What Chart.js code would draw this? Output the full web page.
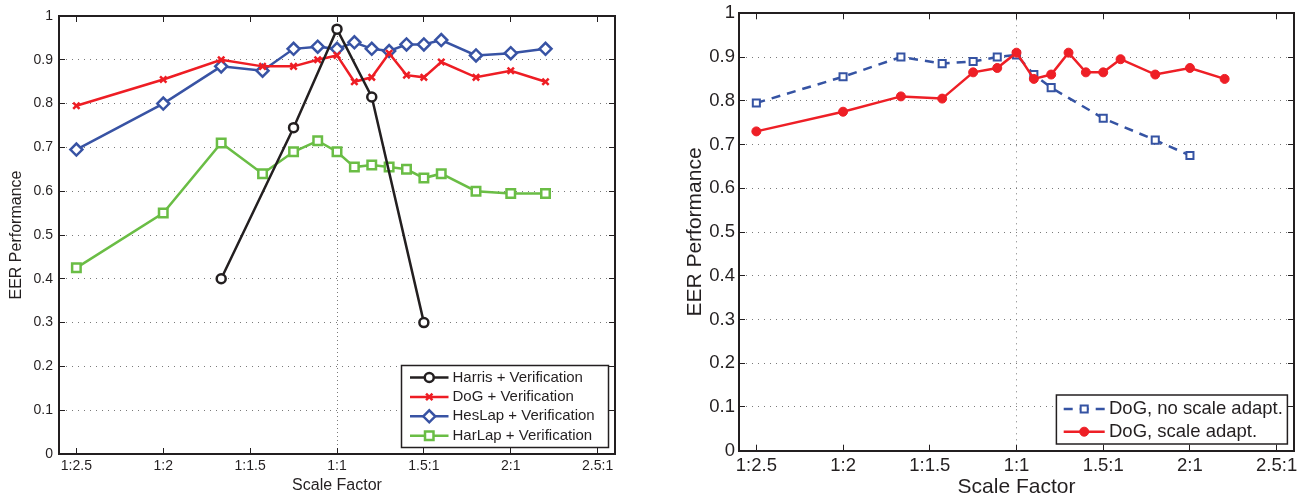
<!DOCTYPE html>
<html>
<head>
<meta charset="utf-8">
<title>EER performance vs. scale factor</title>
<script src="https://cdn.jsdelivr.net/npm/chart.js@4.4.1/dist/chart.umd.min.js"></script>
<style>
  html, body { margin: 0; padding: 0; background: #ffffff; }
  #wrap { position: relative; width: 1301px; height: 496px; overflow: hidden; }
  canvas { position: absolute; top: 0; }
  #left { left: 0; }
  #right { left: 650px; }
</style>
</head>
<body>
<div id="wrap">
  <canvas id="left" width="650" height="496"></canvas>
  <canvas id="right" width="651" height="496"></canvas>
</div>
<script>
// Scale-factor axis: labels sit at positions 0..6
const scaleLabels = ['1:2.5', '1:2', '1:1.5', '1:1', '1.5:1', '2:1', '2.5:1'];
const perfTicks = [0, 0.1, 0.2, 0.3, 0.4, 0.5, 0.6, 0.7, 0.8, 0.9, 1];
const perfTickLabels = ['0', '0.1', '0.2', '0.3', '0.4', '0.5', '0.6', '0.7', '0.8', '0.9', '1'];

// Measured scale factors (0.4 ... 2.2) placed on the scale-factor axis
const fullScaleX = [0, 1, 1.667, 2.143, 2.5, 2.778, 3, 3.2, 3.4, 3.6, 3.8, 4, 4.2, 4.6, 5, 5.4];

// Detectors + verification
const harrisX = [1.667, 2.5, 3, 3.4, 4];
const harrisEER = [0.4, 0.745, 0.97, 0.815, 0.3];
const dogEER = [0.795, 0.855, 0.9, 0.885, 0.885, 0.9, 0.91, 0.85, 0.86, 0.915, 0.865, 0.86, 0.895, 0.86, 0.875, 0.85];
const hesLapEER = [0.695, 0.8, 0.885, 0.875, 0.925, 0.93, 0.925, 0.94, 0.925, 0.92, 0.935, 0.935, 0.945, 0.91, 0.915, 0.925];
const harLapEER = [0.425, 0.55, 0.71, 0.64, 0.69, 0.715, 0.69, 0.655, 0.66, 0.655, 0.65, 0.63, 0.64, 0.6, 0.595, 0.595];

// DoG with and without scale adaptation
const noAdaptX = [0, 1, 1.667, 2.143, 2.5, 2.778, 3, 3.2, 3.4, 4, 4.6, 5];
const noAdaptEER = [0.795, 0.855, 0.9, 0.885, 0.89, 0.9, 0.905, 0.86, 0.83, 0.76, 0.71, 0.675];
const adaptEER = [0.73, 0.775, 0.81, 0.805, 0.865, 0.875, 0.91, 0.85, 0.86, 0.91, 0.865, 0.865, 0.895, 0.86, 0.875, 0.85];

const INK = '#231f20';
const GRID = '#7a7a7a';
const FAMILY = '"Liberation Sans", Arial, Helvetica, sans-serif';

const points = (xs, ys) => xs.map((x, i) => ({ x, y: ys[i] }));

// Boxed legend in the lower right corner of the plot, with line + marker samples
const legendBox = {
  id: 'legendBox',
  afterDatasetsDraw(chart, args, opts) {
    const { ctx, chartArea } = chart;
    const left = chartArea.right - opts.right - opts.width;
    const top = chartArea.bottom - opts.bottom - opts.height;
    ctx.save();
    ctx.fillStyle = '#ffffff';
    ctx.fillRect(left, top, opts.width, opts.height);
    ctx.lineWidth = opts.borderWidth;
    ctx.strokeStyle = INK;
    ctx.strokeRect(left, top, opts.width, opts.height);
    ctx.font = opts.fontSize + 'px ' + FAMILY;
    ctx.textBaseline = 'middle';
    ctx.textAlign = 'left';
    chart.data.datasets.forEach((ds, i) => {
      const y = top + opts.first + i * opts.step;
      const x0 = left + opts.lineStart;
      const x1 = x0 + opts.lineLen;
      ctx.save();
      ctx.strokeStyle = ds.borderColor;
      ctx.lineWidth = ds.borderWidth;
      ctx.setLineDash(ds.borderDash || []);
      ctx.beginPath();
      ctx.moveTo(x0, y);
      ctx.lineTo(x1, y);
      ctx.stroke();
      ctx.setLineDash([]);
      ctx.fillStyle = ds.pointBackgroundColor;
      ctx.strokeStyle = ds.borderColor;
      ctx.lineWidth = ds.pointBorderWidth;
      Chart.helpers.drawPoint(ctx, {
        pointStyle: ds.pointStyle,
        radius: ds.pointRadius,
        borderWidth: ds.pointBorderWidth,
        rotation: 0
      }, (x0 + x1) / 2, y);
      ctx.restore();
      ctx.fillStyle = INK;
      ctx.fillText(ds.label, left + opts.textX, y);
    });
    ctx.restore();
  }
};

// Framed axes with inward tick marks on all four sides, dotted grid
function buildScales(o) {
  const tickFont = { family: FAMILY, size: o.tickSize };
  const titleFont = { family: FAMILY, size: o.titleSize };
  const tickMark = { tickColor: INK, tickWidth: 1, tickLength: -o.tick, tickBorderDash: [] };
  const frame = { display: true, color: INK, width: o.frame };
  const fixTicks = values => scale => { scale.ticks = values.map(v => ({ value: v })); };
  const fixSize = (key, size) => scale => {
    scale[key] = size;
    scale.paddingLeft = scale.paddingRight = scale.paddingTop = scale.paddingBottom = 0;
  };
  const xTickValues = scaleLabels.map((_, i) => i);
  return {
    x: {
      type: 'linear', position: 'bottom', min: -0.2, max: 6.2,
      afterBuildTicks: fixTicks(xTickValues),
      afterFit: fixSize('height', o.xHeight),
      ticks: {
        font: tickFont, color: INK, padding: o.xTickPad, maxRotation: 0, autoSkip: false,
        callback: (v, i) => scaleLabels[i]
      },
      grid: Object.assign({}, tickMark, {
        lineWidth: 1,
        color: c => (c.tick && c.tick.value === 3 ? GRID : 'rgba(0,0,0,0)')
      }),
      border: Object.assign({}, frame, { dash: o.vDash }),
      title: {
        display: true, text: 'Scale Factor', font: titleFont, color: INK,
        padding: { top: 0, bottom: o.xTitlePad }
      }
    },
    x2: {
      type: 'linear', position: 'top', min: -0.2, max: 6.2,
      afterBuildTicks: fixTicks(xTickValues),
      afterFit: fixSize('height', 0),
      ticks: { display: false },
      grid: Object.assign({}, tickMark, { drawOnChartArea: false }),
      border: frame
    },
    y: {
      type: 'linear', position: 'left', min: 0, max: 1,
      afterBuildTicks: fixTicks(perfTicks),
      afterFit: fixSize('width', o.yWidth),
      ticks: { font: tickFont, color: INK, padding: o.yTickPad, callback: (v, i) => perfTickLabels[i] },
      grid: Object.assign({}, tickMark, { lineWidth: 1, color: GRID }),
      border: Object.assign({}, frame, { dash: o.hDash }),
      title: {
        display: true, text: 'EER Performance', font: titleFont, color: INK,
        padding: { top: o.yTitlePad, bottom: 0 }
      }
    },
    y2: {
      type: 'linear', position: 'right', min: 0, max: 1,
      afterBuildTicks: fixTicks(perfTicks),
      afterFit: fixSize('width', 0),
      ticks: { display: false },
      grid: Object.assign({}, tickMark, { drawOnChartArea: false }),
      border: frame
    }
  };
}

const common = {
  responsive: false,
  animation: false,
  devicePixelRatio: 1,
  events: [],
  plugins: { legend: { display: false }, tooltip: { enabled: false } }
};

// Left: four detectors with verification
new Chart(document.getElementById('left'), {
  type: 'line',
  data: {
    datasets: [
      {
        label: 'Harris + Verification', data: points(harrisX, harrisEER),
        borderColor: INK, borderWidth: 2.5, pointStyle: 'circle', pointRadius: 4.5,
        pointBorderWidth: 2.5, pointBackgroundColor: '#ffffff', pointBorderColor: INK
      },
      {
        label: 'DoG + Verification', data: points(fullScaleX, dogEER),
        borderColor: '#ee1d24', borderWidth: 2.5, pointStyle: 'crossRot', pointRadius: 4.5,
        pointBorderWidth: 2.5, pointBackgroundColor: '#ee1d24', pointBorderColor: '#ee1d24'
      },
      {
        label: 'HesLap + Verification', data: points(fullScaleX, hesLapEER),
        borderColor: '#3853a4', borderWidth: 2.5, pointStyle: 'rectRot', pointRadius: 6,
        pointBorderWidth: 2.5, pointBackgroundColor: '#ffffff', pointBorderColor: '#3853a4'
      },
      {
        label: 'HarLap + Verification', data: points(fullScaleX, harLapEER),
        borderColor: '#6abd45', borderWidth: 2.5, pointStyle: 'rect', pointRadius: 6,
        pointBorderWidth: 2.5, pointBackgroundColor: '#ffffff', pointBorderColor: '#6abd45'
      }
    ]
  },
  options: Object.assign({}, common, {
    clip: false,
    elements: { line: { tension: 0 } },
    layout: { padding: { left: 0, top: 16, right: 35, bottom: 0 } },
    scales: buildScales({
      tickSize: 14, titleSize: 16, tick: 6, frame: 2,
      xHeight: 42, yWidth: 59, xTickPad: 10, yTickPad: 12,
      xTitlePad: 1, yTitlePad: 7, vDash: [1, 3], hDash: [1, 5]
    }),
    plugins: Object.assign({}, common.plugins, {
      legendBox: {
        width: 207, height: 82, right: 6.5, bottom: 6.5, borderWidth: 1.5,
        first: 12, step: 19.4, lineStart: 8.5, lineLen: 38.5, textX: 51, fontSize: 15
      }
    })
  }),
  plugins: [legendBox]
});

// Right: DoG with / without scale adaptation
new Chart(document.getElementById('right'), {
  type: 'line',
  data: {
    datasets: [
      {
        label: 'DoG, no scale adapt.', data: points(noAdaptX, noAdaptEER), order: 2,
        borderColor: '#3553a3', borderWidth: 2.5, borderDash: [9, 7], pointStyle: 'rect', pointRadius: 5,
        pointBorderWidth: 2, pointBackgroundColor: '#ffffff', pointBorderColor: '#3553a3'
      },
      {
        label: 'DoG, scale adapt.', data: points(fullScaleX, adaptEER), order: 1,
        borderColor: '#ee1f26', borderWidth: 2.5, pointStyle: 'circle', pointRadius: 4.5,
        pointBorderWidth: 1, pointBackgroundColor: '#ee1f26', pointBorderColor: '#ee1f26'
      }
    ]
  },
  options: Object.assign({}, common, {
    clip: false,
    elements: { line: { tension: 0 } },
    layout: { padding: { left: 0, top: 13.3, right: 6.7, bottom: 0 } },
    scales: buildScales({
      tickSize: 18.5, titleSize: 21, tick: 6, frame: 2,
      xHeight: 45.3, yWidth: 89, xTickPad: 10, yTickPad: 10,
      xTitlePad: -3.6, yTitlePad: 33, vDash: [1, 5], hDash: [1, 5]
    }),
    plugins: Object.assign({}, common.plugins, {
      legendBox: {
        width: 231, height: 49, right: 6.6, bottom: 6.7, borderWidth: 1.5,
        first: 14, step: 22.7, lineStart: 7.3, lineLen: 41, textX: 52.6, fontSize: 18.5
      }
    })
  }),
  plugins: [legendBox]
});
</script>
</body>
</html>
